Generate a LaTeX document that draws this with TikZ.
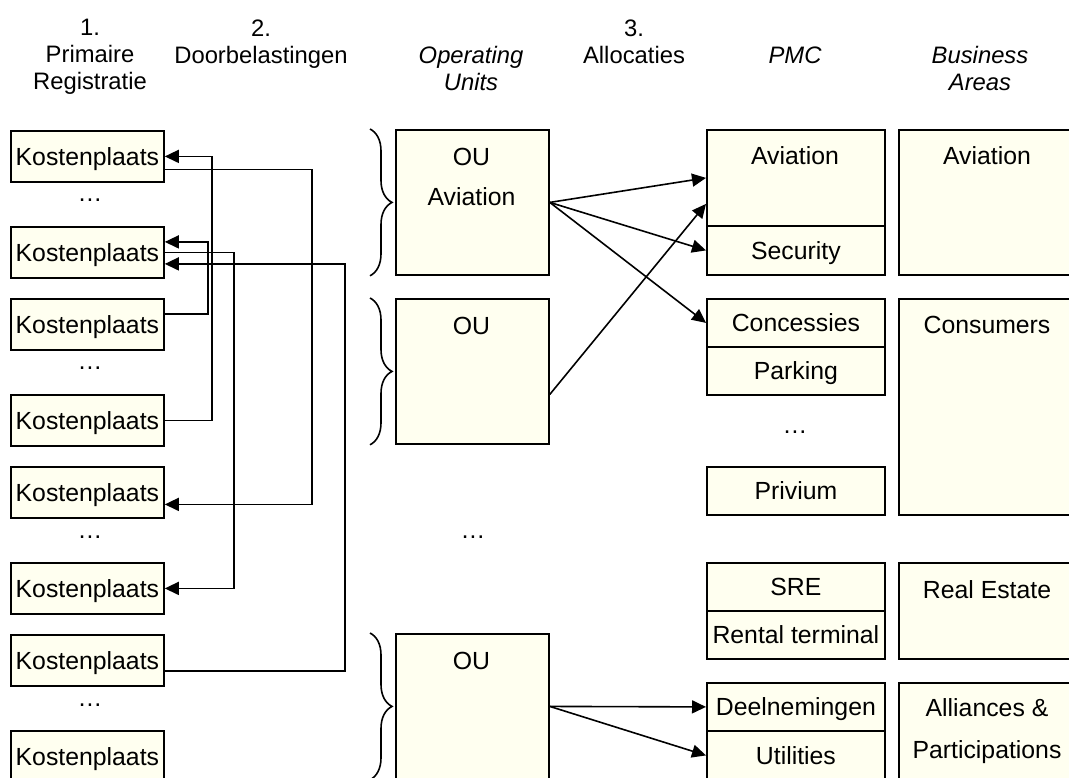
\documentclass[tikz,border=0pt]{standalone}
\usepackage{fontspec}
\setmainfont{Liberation Sans}
\usetikzlibrary{arrows.meta, decorations.pathreplacing}
\definecolor{boxfill}{RGB}{255,255,240}

\begin{document}
\begin{tikzpicture}[x=0.5pt, y=-0.5pt, >={Triangle[length=7pt, width=6.5pt]},
    font=\fontsize{12.4}{14}\selectfont,
    box/.style={draw, fill=boxfill, line width=0.9pt, anchor=north west, inner sep=0pt, text height=8.9pt, text depth=0pt},
    kpbox/.style={box, minimum width=76.5pt, minimum height=25.5pt},
    oubox/.style={box, minimum width=76.5pt, minimum height=72.5pt},
    cell/.style={box, minimum width=89pt},
    txt/.style={inner sep=0pt, text height=8.9pt, text depth=0pt},
    dotline/.style={inner sep=0pt, anchor=base},
    head/.style={align=center, anchor=north, inner sep=0pt, font=\fontsize{11.9}{13.5}\selectfont},
    conn/.style={->, line width=0.8pt},
    oubrace/.style={decorate, decoration={brace, amplitude=11pt}, line width=0.8pt}]
    \useasboundingbox (0,0) rectangle (1069,777);

    % Kolomkoppen
    \node[head] (h1) at (90,19) {1.\\Primaire\\Registratie};
    \node[head] (h2) at (261,19) {2.\\Doorbelastingen};
    \node[head, font=\fontsize{11.9}{13.5}\selectfont\itshape] (hou) at (471,46) {Operating\\Units};
    \node[head] (h3) at (634,19) {3.\\Allocaties};
    \node[head, font=\fontsize{11.9}{13.5}\selectfont\itshape] (hpmc) at (795,46) {PMC};
    \node[head, font=\fontsize{11.9}{13.5}\selectfont\itshape] (hba) at (980,46) {Business\\Areas};

    % Kostenplaatsen
    \foreach \i/\y in {1/130, 2/226, 3/298, 4/394, 5/466, 6/562, 7/634, 8/730}
        \node[kpbox] (k\i) at (10,\y) {Kostenplaats};
    \foreach \i/\y in {1/201, 2/369, 3/538, 4/706}
        \node[dotline] (kd\i) at (90,\y) {\ldots};

    % Doorbelastingen tussen kostenplaatsen
    \draw[conn] (k4.east) -- ++(47,0) |- (k1.east);
    \draw[conn] ([yshift=-6.5pt]k1.east) -- ++(147,0) |- ([yshift=-6pt]k5.east);
    \draw[conn] ([yshift=5.25pt]k3.east) -- ++(43,0) |- ([yshift=5.25pt]k2.east);
    \draw[conn] (k2.east) -- ++(69,0) |- (k6.east);
    \draw[conn] ([yshift=-5.25pt]k7.east) -- ++(180,0) |- ([yshift=-5.75pt]k2.east);

    % Operating Units met accolades
    \foreach \i/\y in {1/129, 2/298, 3/633}{
        \node[oubox] (ou\i) at (395,\y) {};
        \draw[oubrace] ([xshift=-12.5pt]ou\i.north west) -- ([xshift=-12.5pt]ou\i.south west);
    }
    \node[txt] (tou1) at (471.5,157) {OU};
    \node[txt] (tou1b) at (471.5,197) {Aviation};
    \node[txt] (tou2) at (471.5,326) {OU};
    \node[txt] (tou3) at (471.5,661) {OU};
    \node[dotline] (oud) at (473,538) {\ldots};

    % PMC
    \node[cell, minimum height=48pt] (pav) at (706,129) {};
    \node[txt] (tpav) at (795,156) {Aviation};
    \node[cell, minimum height=24.5pt] (psec) at (706,225) {Security};
    \node[cell, minimum height=24pt] (pcon) at (706,298) {Concessies};
    \node[cell, minimum height=24pt] (ppark) at (706,346) {Parking};
    \node[dotline] (pd) at (795,433) {\ldots};
    \node[cell, minimum height=24pt] (ppriv) at (706,466) {Privium};
    \node[cell, minimum height=24pt] (psre) at (706,562) {SRE};
    \node[cell, minimum height=24pt] (prent) at (706,610) {Rental terminal};
    \node[cell, minimum height=24pt] (pdeel) at (706,682) {Deelnemingen};
    \node[cell, minimum height=24.5pt] (putil) at (706,730) {Utilities};

    % Business Areas
    \node[cell, minimum height=72.5pt] (bav) at (898,129) {};
    \node[txt] (tbav) at (987,156) {Aviation};
    \node[cell, minimum height=108pt] (bcon) at (898,298) {};
    \node[txt] (tbcon) at (987,325) {Consumers};
    \node[cell, minimum height=48pt] (bre) at (898,562) {};
    \node[txt] (tbre) at (987,590) {Real Estate};
    \node[cell, minimum height=48.5pt] (ball) at (898,682) {};
    \node[txt] (tball) at (987,708) {Alliances \&};
    \node[txt] (tballb) at (987,750) {Participations};

    % Allocaties
    \draw[conn] (ou1.east) -- (pav.west);
    \draw[conn] (ou1.east) -- (psec.west);
    \draw[conn] (ou1.east) -- (pcon.west);
    \draw[conn] ([yshift=-11.5pt]ou2.east) -- ([yshift=-13pt]pav.west);
    \draw[conn] (ou3.east) -- (pdeel.west);
    \draw[conn] (ou3.east) -- (putil.west);
\end{tikzpicture}
\end{document}
